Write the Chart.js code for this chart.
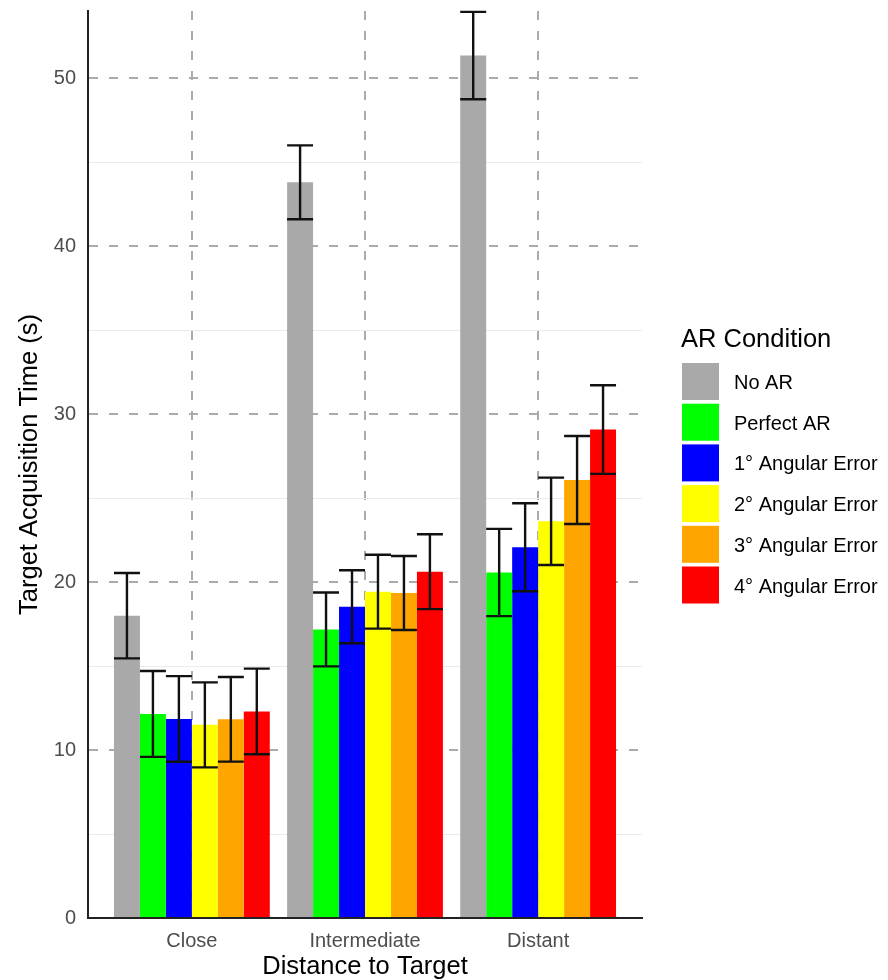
<!DOCTYPE html>
<html>
<head>
<meta charset="utf-8">
<script src="https://cdn.jsdelivr.net/npm/chart.js@4.4.1/dist/chart.umd.min.js"></script>
<style>
  html, body { margin: 0; padding: 0; background: #fff; }
  canvas { display: block; }
</style>
</head>
<body>
<canvas id="chart" width="888" height="980"></canvas>
<script>
// ---- data ----
const categories = ['Close', 'Intermediate', 'Distant'];
const conditions = ['No AR', 'Perfect AR', '1° Angular Error', '2° Angular Error', '3° Angular Error', '4° Angular Error'];
const colors = ['#a9a9a9', '#00ff00', '#0000ff', '#ffff00', '#ffa500', '#ff0000'];

const noAR      = [18.0, 43.8, 51.35];
const perfectAR = [12.15, 17.18, 20.57];
const angErr1   = [11.85, 18.53, 22.07];
const angErr2   = [11.5, 19.43, 23.62];
const angErr3   = [11.83, 19.35, 26.08];
const angErr4   = [12.3, 20.62, 29.08];

// half-length of each error bar
const noARErr      = [2.54, 2.2, 2.6];
const perfectARErr = [2.56, 2.2, 2.6];
const angErr1Err   = [2.55, 2.17, 2.62];
const angErr2Err   = [2.53, 2.2, 2.6];
const angErr3Err   = [2.52, 2.2, 2.62];
const angErr4Err   = [2.55, 2.23, 2.64];

const yTicks = [0, 10, 20, 30, 40, 50];
const yMinorTicks = [5, 15, 25, 35, 45];

const seriesValues = [noAR, perfectAR, angErr1, angErr2, angErr3, angErr4];
const seriesErrors = [noARErr, perfectARErr, angErr1Err, angErr2Err, angErr3Err, angErr4Err];

const FONT = "'Liberation Sans', Arial, sans-serif";
Chart.defaults.font.family = FONT;

// light solid minor grid lines (ggplot panel.grid.minor)
const minorGrid = {
    id: 'minorGrid',
    beforeDatasetsDraw(chart) {
        const { ctx, chartArea: a, scales: { y } } = chart;
        ctx.save();
        ctx.strokeStyle = '#ebebeb';
        ctx.lineWidth = 1;
        yMinorTicks.forEach(v => {
            const py = Math.round(y.getPixelForValue(v)) + 0.5;
            ctx.beginPath();
            ctx.moveTo(a.left, py);
            ctx.lineTo(a.right, py);
            ctx.stroke();
        });
        ctx.restore();
    }
};

// error bars on top of the bars
const errorBars = {
    id: 'errorBars',
    afterDatasetsDraw(chart) {
        const { ctx, scales: { y } } = chart;
        ctx.save();
        ctx.strokeStyle = '#111';
        ctx.lineWidth = 2.4;
        chart.data.datasets.forEach((ds, i) => {
            chart.getDatasetMeta(i).data.forEach((bar, j) => {
                const v = seriesValues[i][j], e = seriesErrors[i][j];
                const top = y.getPixelForValue(v + e);
                const bot = y.getPixelForValue(v - e);
                const half = bar.width / 2;
                ctx.beginPath();
                ctx.moveTo(bar.x - half, top); ctx.lineTo(bar.x + half, top);
                ctx.moveTo(bar.x, top); ctx.lineTo(bar.x, bot);
                ctx.moveTo(bar.x - half, bot); ctx.lineTo(bar.x + half, bot);
                ctx.stroke();
            });
        });
        ctx.restore();
    }
};

// ggplot-like legend at the right
const sideLegend = {
    id: 'sideLegend',
    afterDraw(chart) {
        const { ctx } = chart;
        const x0 = 682, y0 = 363, pitch = 40.7, key = 37;
        ctx.save();
        ctx.fillStyle = '#000';
        ctx.font = `25.5px ${FONT}`;
        ctx.textBaseline = 'alphabetic';
        ctx.textAlign = 'left';
        ctx.fillText('AR Condition', 681, 347);
        ctx.font = `20px ${FONT}`;
        ctx.textBaseline = 'middle';
        conditions.forEach((label, i) => {
            const ky = y0 + i * pitch;
            ctx.fillStyle = colors[i];
            ctx.fillRect(x0, ky, key, key);
            ctx.fillStyle = '#000';
            ctx.fillText(label, 734, ky + key / 2 + 2);
        });
        ctx.restore();
    }
};

const datasets = conditions.map((label, i) => ({
    label: label,
    data: seriesValues[i].map((v, j) => ({ x: j, y: v })),
    backgroundColor: colors[i],
    borderWidth: 0,
    categoryPercentage: 0.9,
    barPercentage: 1.0
}));

new Chart(document.getElementById('chart'), {
    type: 'bar',
    data: { datasets },
    plugins: [minorGrid, errorBars, sideLegend],
    options: {
        responsive: false,
        devicePixelRatio: 1,
        animation: false,
        layout: { padding: { top: 11, right: 246, left: 0, bottom: 0 } },
        plugins: { legend: { display: false }, tooltip: { enabled: false } },
        scales: {
            x: {
                type: 'linear',
                min: -0.6,
                max: 2.6,
                offset: false,
                afterBuildTicks: s => { s.ticks = categories.map((c, i) => ({ value: i })); },
                afterFit: s => { s.height = 62; s.paddingLeft = 0; s.paddingRight = 0; },
                ticks: {
                    callback: v => categories[v] ?? '',
                    font: { size: 20 },
                    color: '#4d4d4d',
                    padding: 11,
                    autoSkip: false,
                    maxRotation: 0
                },
                grid: { offset: false, color: '#ababab', lineWidth: 2, drawTicks: false },
                border: { display: true, color: '#222', width: 2, dash: [9, 11], z: 1 },
                title: {
                    display: true,
                    text: 'Distance to Target',
                    font: { size: 25.5, lineHeight: 1.0 },
                    color: '#000',
                    padding: { top: 0, bottom: 0 }
                }
            },
            y: {
                min: 0,
                max: 54,
                afterBuildTicks: s => { s.ticks = yTicks.map(v => ({ value: v })); },
                afterFit: s => { s.width = 88; s.paddingTop = 0; s.paddingBottom = 0; },
                ticks: { font: { size: 20 }, color: '#4d4d4d', padding: 12 },
                grid: { color: '#ababab', lineWidth: 2, drawTicks: false },
                border: { display: true, color: '#222', width: 2, dash: [9, 11], z: 1 },
                title: {
                    display: true,
                    text: 'Target Acquisition Time (s)',
                    font: { size: 25.5 },
                    color: '#000',
                    padding: { top: 15, bottom: 0 }
                }
            }
        }
    }
});
</script>
</body>
</html>
